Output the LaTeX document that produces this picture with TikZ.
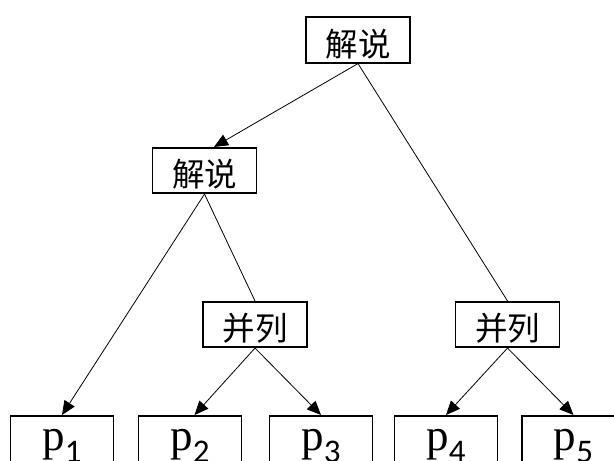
\documentclass[tikz,border=0pt]{standalone}
\usepackage{fontspec}
\setmainfont{Liberation Serif}
\newfontfamily\cjk{Noto Sans CJK SC}
\newfontfamily\subfont{Carlito}
\usetikzlibrary{arrows.meta}
\newcommand{\psub}[1]{p\raisebox{-12pt}{\subfont\fontsize{33}{33}\selectfont #1}}
\begin{document}
\begin{tikzpicture}[x=1pt,y=-1pt,
  cbox/.style={draw, line width=1.6pt, minimum width=104pt, inner xsep=0pt, inner ysep=0pt,
    text height=39pt, text depth=6.5pt, font=\cjk\fontsize{32.5}{32.5}\selectfont},
  pbox/.style={draw, line width=1.6pt, minimum width=103pt, inner xsep=0pt, inner ysep=0pt,
    anchor=north, text height=35pt, text depth=40pt, font=\fontsize{45}{45}\selectfont},
  edge/.style={line width=0.8pt},
  arr/.style={edge, -{Triangle[length=14pt,width=12pt]}}]
\useasboundingbox (0,0) rectangle (614,461);
\fill[white] (0,0) rectangle (614,461);
\clip (0,0) rectangle (614,461);
\node[cbox] (top) at (358,40) {解说};
\node[cbox] (box2) at (204.5,170.5) {解说};
\node[cbox] (parL) at (255,324.5) {并列};
\node[cbox] (parR) at (507.5,324.5) {并列};
\node[pbox] (p1) at (62,415) {\psub{1}};
\node[pbox] (p2) at (190,415) {\psub{2}};
\node[pbox] (p3) at (321,415) {\psub{3}};
\node[pbox] (p4) at (446,415) {\psub{4}};
\node[pbox] (p5) at (573.5,415) {\psub{5}};
\draw[arr] (top.south) -- ([xshift=9.5pt]box2.north);
\draw[edge] (top.south) -- (parR.north);
\draw[arr] (box2.south) -- (p1.north);
\draw[edge] (box2.south) -- (parL.north);
\draw[arr] (parL.south) -- ([xshift=4.5pt]p2.north);
\draw[arr] (parL.south) -- (p3.north);
\draw[arr] (parR.south) -- (p4.north);
\draw[arr] (parR.south) -- (p5.north);
\end{tikzpicture}
\end{document}
